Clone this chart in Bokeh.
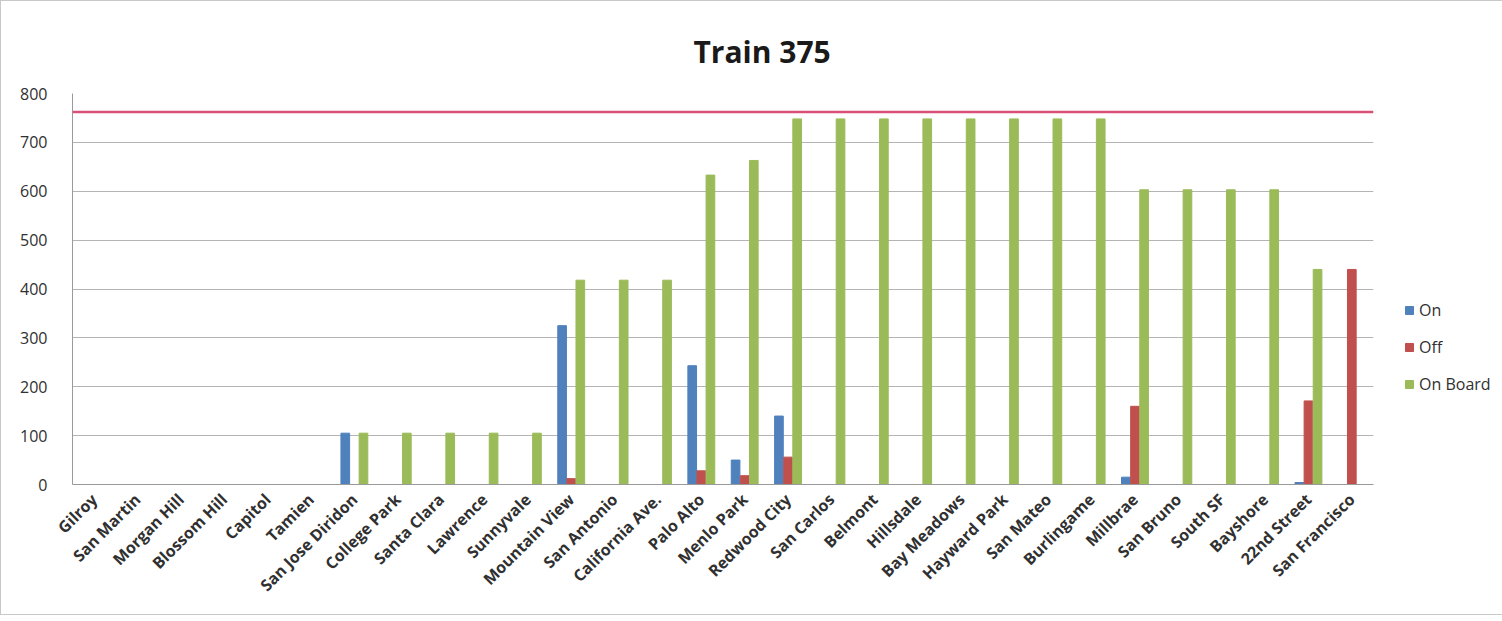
from bokeh.plotting import figure
from bokeh.models import ColumnDataSource, Legend, LegendItem, Span
from bokeh.transform import dodge
from bokeh.embed import file_html
from bokeh.resources import INLINE
import math

stations = ["Gilroy", "San Martin", "Morgan Hill", "Blossom Hill", "Capitol", "Tamien",
            "San Jose Diridon", "College Park", "Santa Clara", "Lawrence", "Sunnyvale",
            "Mountain View", "San Antonio", "California Ave.", "Palo Alto", "Menlo Park",
            "Redwood City", "San Carlos", "Belmont", "Hillsdale", "Bay Meadows",
            "Hayward Park", "San Mateo", "Burlingame", "Millbrae", "San Bruno",
            "South SF", "Bayshore", "22nd Street", "San Francisco"]
on_counts = [0, 0, 0, 0, 0, 0, 105, 0, 0, 0, 0, 325, 0, 0, 243, 50, 140, 0, 0, 0, 0, 0, 0, 0, 15, 0, 0, 0, 4, 0]
off_counts = [0, 0, 0, 0, 0, 0, 0, 0, 0, 0, 0, 12, 0, 0, 28, 18, 56, 0, 0, 0, 0, 0, 0, 0, 160, 0, 0, 0, 171, 440]
on_board = [0, 0, 0, 0, 0, 0, 105, 105, 105, 105, 105, 418, 418, 418, 633, 663, 748, 748, 748, 748, 748, 748, 748, 748, 603, 603, 603, 603, 440, 0]
capacity = 762

series_names = ["On", "Off", "On Board"]
series_colors = ["#4F81BD", "#C0504D", "#9BBB59"]

source = ColumnDataSource(dict(station=stations, on=on_counts, off=off_counts, onboard=on_board))

FONT = "Open Sans"

p = figure(x_range=stations, y_range=(0, 800), frame_width=1301, frame_height=391,
           output_backend="svg", toolbar_location=None,
           min_border_left=71, min_border_right=10, min_border_top=92, min_border_bottom=130)
p.styles = {"border": "1px solid #c8c8c8"}

p.title.text = "Train 375"
p.title.text_font = FONT
p.title.text_font_size = "30px"
p.title.text_font_style = "bold"
p.title.text_color = "#1a1a1a"
p.title.align = "left"
p.title.offset = 621
p.title.standoff = 44

p.outline_line_color = None
p.background_fill_color = "white"
p.border_fill_color = "white"

bw = 0.2
r_on = p.vbar(x=dodge("station", -0.21, range=p.x_range), top="on", width=bw, source=source,
              color=series_colors[0])
r_off = p.vbar(x=dodge("station", 0.0, range=p.x_range), top="off", width=bw, source=source,
               color=series_colors[1])
r_ob = p.vbar(x=dodge("station", 0.21, range=p.x_range), top="onboard", width=bw, source=source,
              color=series_colors[2])

cap = Span(location=capacity, dimension="width", line_color="#DA4F78", line_width=2.5)
p.add_layout(cap)

p.xgrid.grid_line_color = None
p.ygrid.grid_line_color = "#b4b4b4"
p.ygrid.grid_line_width = 1.2
p.yaxis.ticker = list(range(0, 801, 100))

for ax in (p.xaxis[0], p.yaxis[0]):
    ax.axis_line_color = "#9a9a9a"
    ax.major_tick_line_color = None
    ax.minor_tick_line_color = None
    ax.major_label_text_font = FONT
    ax.major_label_text_color = "#303030"

p.yaxis.major_label_text_font_size = "16px"
p.yaxis.major_label_standoff = 19
p.xaxis.major_label_text_font_size = "16px"
p.xaxis.major_label_text_font_style = "bold"
p.xaxis.major_label_orientation = math.pi / 4
p.xaxis.major_label_standoff = 6
p.x_range.range_padding = 0

legend = Legend(items=[LegendItem(label=series_names[0], renderers=[r_on]),
                       LegendItem(label=series_names[1], renderers=[r_off]),
                       LegendItem(label=series_names[2], renderers=[r_ob])],
                location=(31, 89))
legend.glyph_width = 10
legend.glyph_height = 10
legend.label_height = 20
legend.spacing = 15
legend.padding = 4
legend.margin = 0
legend.border_line_color = None
legend.background_fill_alpha = 0
legend.label_text_font = FONT
legend.label_text_font_size = "16px"
legend.label_text_color = "#303030"
legend.label_standoff = 5
p.add_layout(legend, "right")

open("out.html", "w").write(file_html(p, INLINE))
